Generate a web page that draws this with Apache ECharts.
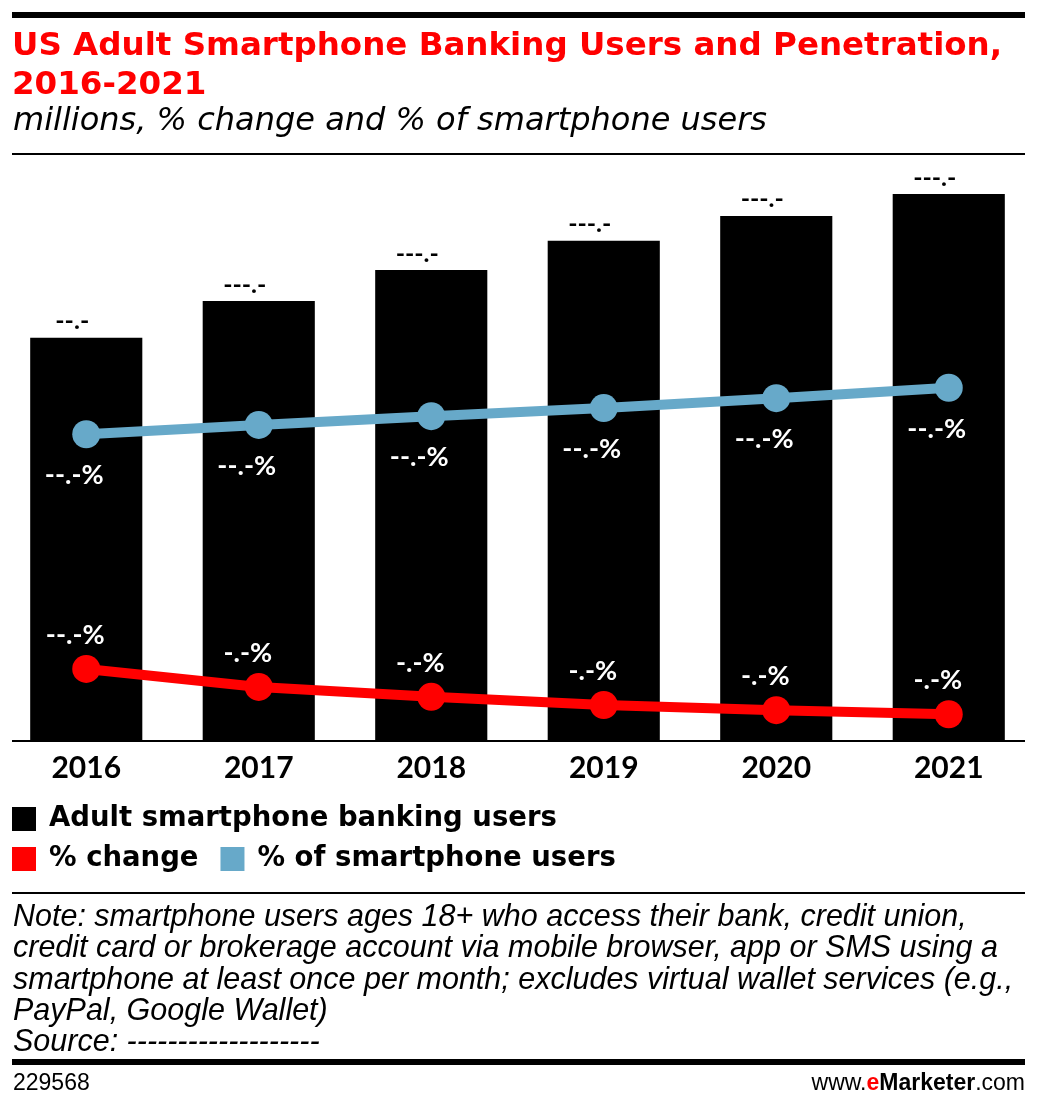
<!DOCTYPE html>
<html><head><meta charset="utf-8">
<script src="https://cdn.jsdelivr.net/npm/echarts@6/dist/echarts.min.js"></script>
<style>html,body{margin:0;padding:0;background:#fff}#c{width:1038px;height:1111px}</style>
</head><body><div id="c"></div>
<script>
const years = ['2016','2017','2018','2019','2020','2021'];
const bankingUsers = [92.3, 100.7, 107.8, 114.5, 120.2, 125.2];
const pctChange = [12.4, 9.3, 7.6, 6.2, 5.3, 4.6];
const pctOfSmartphoneUsers = [52.8, 54.4, 55.9, 57.3, 59.0, 60.8];

const BLUE = '#67a9c9', RED = '#ff0000';
const chart = echarts.init(document.getElementById('c'), null, {renderer:'canvas'});
const mask = (v, pct) => {
  const ip = Math.floor(v).toString().length;
  return '-'.repeat(ip) + '.-' + (pct ? '%' : '');
};
const latoFont = 'Lato, "DejaVu Sans", sans-serif';
const heavyFont = '"DejaVu Sans", sans-serif';
const noteFont = '"Liberation Sans", sans-serif';

chart.setOption({
  animation: false,
  backgroundColor: '#fff',
  grid: {left: 0, right: 3, top: 160, bottom: 370, containLabel: false},
  xAxis: {
    type: 'category', data: years,
    axisLine: {show: false}, axisTick: {show: false},
    axisLabel: {fontFamily: latoFont, fontWeight: 'bold', fontSize: 30, color: '#000', margin: 12}
  },
  yAxis: [
    {type: 'value', min: 0, max: 133, show: false, splitLine: {show: false}},
    {type: 'value', min: 0, max: 100, show: false, splitLine: {show: false}}
  ],
  legend: [
    {data: ['Adult smartphone banking users'], left: 12, top: 805, padding: 0, itemWidth: 24, itemHeight: 24, icon: 'rect',
     textStyle: {fontFamily: heavyFont, fontWeight: 'bold', fontSize: 27.5, color: '#000', padding: [0,0,0,8]}},
    {data: [{name:'% change', icon:'rect'}, {name:'% of smartphone users', icon:'rect'}], left: 12, top: 845, padding: 0, itemGap: 22, itemWidth: 24, itemHeight: 24,
     textStyle: {fontFamily: heavyFont, fontWeight: 'bold', fontSize: 27.5, color: '#000', padding: [0,0,0,8]}}
  ],
  series: [
    {name: 'Adult smartphone banking users', type: 'bar', data: bankingUsers, yAxisIndex: 0,
     barWidth: '65%', itemStyle: {color: '#000'},
     label: {show: true, position: 'top', distance: 4, offset: [-14, 0], fontFamily: latoFont, fontWeight: 'bold', fontSize: 25, color: '#000',
       formatter: p => mask(p.value, false)}},
    {name: '% change', type: 'line', data: pctChange, yAxisIndex: 1,
     symbol: 'circle', symbolSize: 28, lineStyle: {width: 10, color: RED}, itemStyle: {color: RED},
     label: {show: true, position: 'top', distance: 6, offset: [-11, 0], fontFamily: latoFont, fontWeight: 'bold', fontSize: 27, color: '#fff',
       formatter: p => mask(p.value, true)}},
    {name: '% of smartphone users', type: 'line', data: pctOfSmartphoneUsers, yAxisIndex: 1,
     symbol: 'circle', symbolSize: 28, lineStyle: {width: 10, color: BLUE}, itemStyle: {color: BLUE},
     label: {show: true, position: 'bottom', distance: 14, offset: [-12, 0], fontFamily: latoFont, fontWeight: 'bold', fontSize: 27, color: '#fff',
       formatter: p => mask(p.value, true)}}
  ],
  graphic: [
    {type: 'rect', shape: {x: 12, y: 12, width: 1013, height: 6}, style: {fill: '#000'}},
    {type: 'text', x: 12, y: 27, style: {text: 'US Adult Smartphone Banking Users and Penetration,\n2016-2021', fill: RED,
      font: 'bold 32.5px ' + heavyFont, lineHeight: 39}},
    {type: 'text', x: 13, y: 106, style: {text: 'millions, % change and % of smartphone users', fill: '#000',
      font: 'oblique 32px "DejaVu Sans", sans-serif'}},
    {type: 'rect', shape: {x: 12, y: 153, width: 1013, height: 2}, style: {fill: '#000'}},
    {type: 'rect', shape: {x: 12, y: 740, width: 1013, height: 2}, style: {fill: '#000'}},
    {type: 'rect', shape: {x: 12, y: 892, width: 1013, height: 2}, style: {fill: '#000'}},
    {type: 'text', x: 13, y: 902, style: {text: 'Note: smartphone users ages 18+ who access their bank, credit union,\ncredit card or brokerage account via mobile browser, app or SMS using a\nsmartphone at least once per month; excludes virtual wallet services (e.g.,\nPayPal, Google Wallet)\nSource: -------------------',
      fill: '#000', font: 'italic 30.5px ' + noteFont, lineHeight: 31.3}},
    {type: 'rect', shape: {x: 12, y: 1059, width: 1013, height: 6}, style: {fill: '#000'}},
    {type: 'text', x: 13, y: 1072, style: {text: '229568', fill: '#000', font: '23px ' + noteFont}},
    {type: 'text', right: 13, y: 1072, style: {text: '{a|www.}{b|e}{c|Marketer}{a|.com}', fill: '#000',
      rich: {a: {fontFamily: noteFont, fontSize: 23, fill: '#000'}, b: {fontFamily: noteFont, fontSize: 23, fontWeight: 'bold', fill: RED}, c: {fontFamily: noteFont, fontSize: 23, fontWeight: 'bold', fill: '#000'}}}}
  ]
});
</script></body></html>
